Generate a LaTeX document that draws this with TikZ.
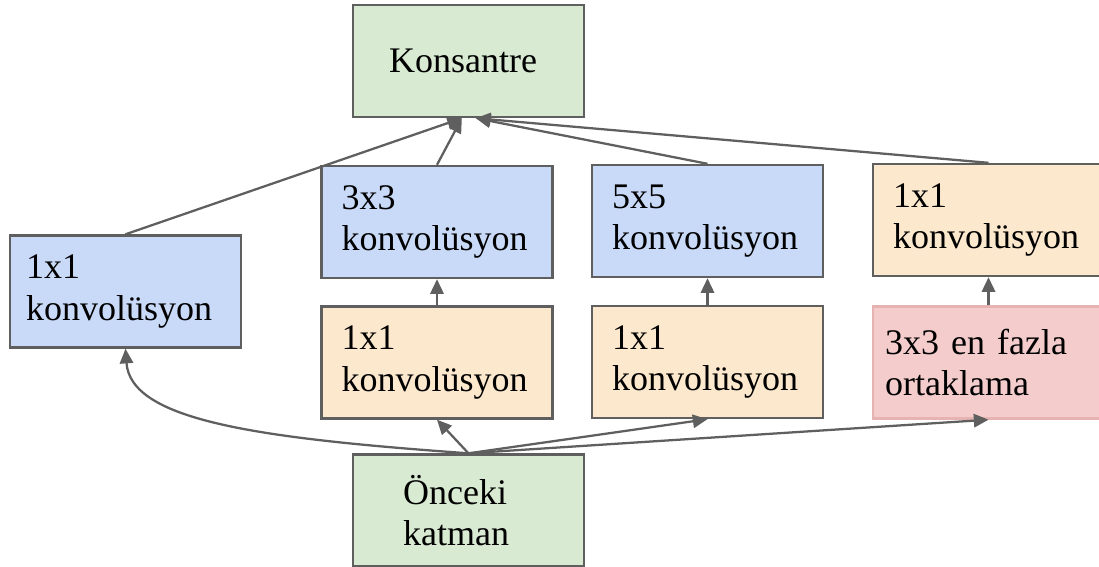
\documentclass[tikz,border=0pt]{standalone}
\usepackage{fontspec}
\setmainfont{Liberation Serif}
\usepackage{xcolor}
\usetikzlibrary{arrows.meta}

\definecolor{kgreen}{HTML}{D9EAD3}
\definecolor{kblue}{HTML}{C9DAF8}
\definecolor{korange}{HTML}{FCE8CD}
\definecolor{kpink}{HTML}{F4CCCC}
\definecolor{kedge}{HTML}{5F5F5F}
\definecolor{kpinkedge}{HTML}{E6B3B3}

\begin{document}
\begin{tikzpicture}[x=0.75pt,y=0.75pt,yscale=-1,xscale=1,
  box/.style={draw=kedge, line width=1.8pt, minimum width=173pt, minimum height=84pt, inner sep=0pt, align=left, text width=143pt, font=\fontsize{27}{31}\selectfont},
  conn/.style={draw=kedge, line width=1.7pt, -{Triangle[length=11pt,width=10pt]}}]

\useasboundingbox (0,0) rectangle (1099,567);

\node [box, fill=kgreen, text width=119pt] (konsantre) at (468.5,61) {Konsantre};

\node [box, fill=kgreen, text width=98pt] (onceki) at (468.5,510.5) {Önceki\\katman};

\node [box, fill=kblue, text width=149pt] (conv1) at (125.5,291.5) {1x1\\konvolüsyon};

\node [box, fill=korange] (reduce3) at (437,362.5) {1x1\\konvolüsyon};

\node [box, fill=kblue] (conv3) at (437,222) {3x3\\konvolüsyon};

\node [box, fill=korange] (reduce5) at (707.5,362) {1x1\\konvolüsyon};

\node [box, fill=kblue] (conv5) at (707.5,221) {5x5\\konvolüsyon};

\node [box, fill=kpink, draw=kpinkedge, text width=155pt] (pool) at (988.5,362.5) {3x3 en fazla\\ortaklama};

\node [box, fill=korange] (poolproj) at (988.5,220) {1x1\\konvolüsyon};


\draw [conn] (conv1.north) -- ([xshift=-5pt]konsantre.south);

\draw [conn] (conv3.north) -- ([xshift=-5pt]konsantre.south);

\draw [conn] (conv5.north) -- ([xshift=5.5pt]konsantre.south);

\draw [conn] (poolproj.north) -- ([xshift=5.5pt]konsantre.south);

\draw [conn] (reduce3.north) -- (conv3.south);

\draw [conn] (reduce5.north) -- (conv5.south);

\draw [conn] (pool.north) -- (poolproj.south);

\draw [conn] (onceki.north) .. controls +(-210,-15) and +(5,72) .. (conv1.south);

\draw [conn] (onceki.north) -- (reduce3.south);

\draw [conn] (onceki.north) -- (reduce5.south);

\draw [conn] (onceki.north) -- (pool.south);

\end{tikzpicture}
\end{document}
